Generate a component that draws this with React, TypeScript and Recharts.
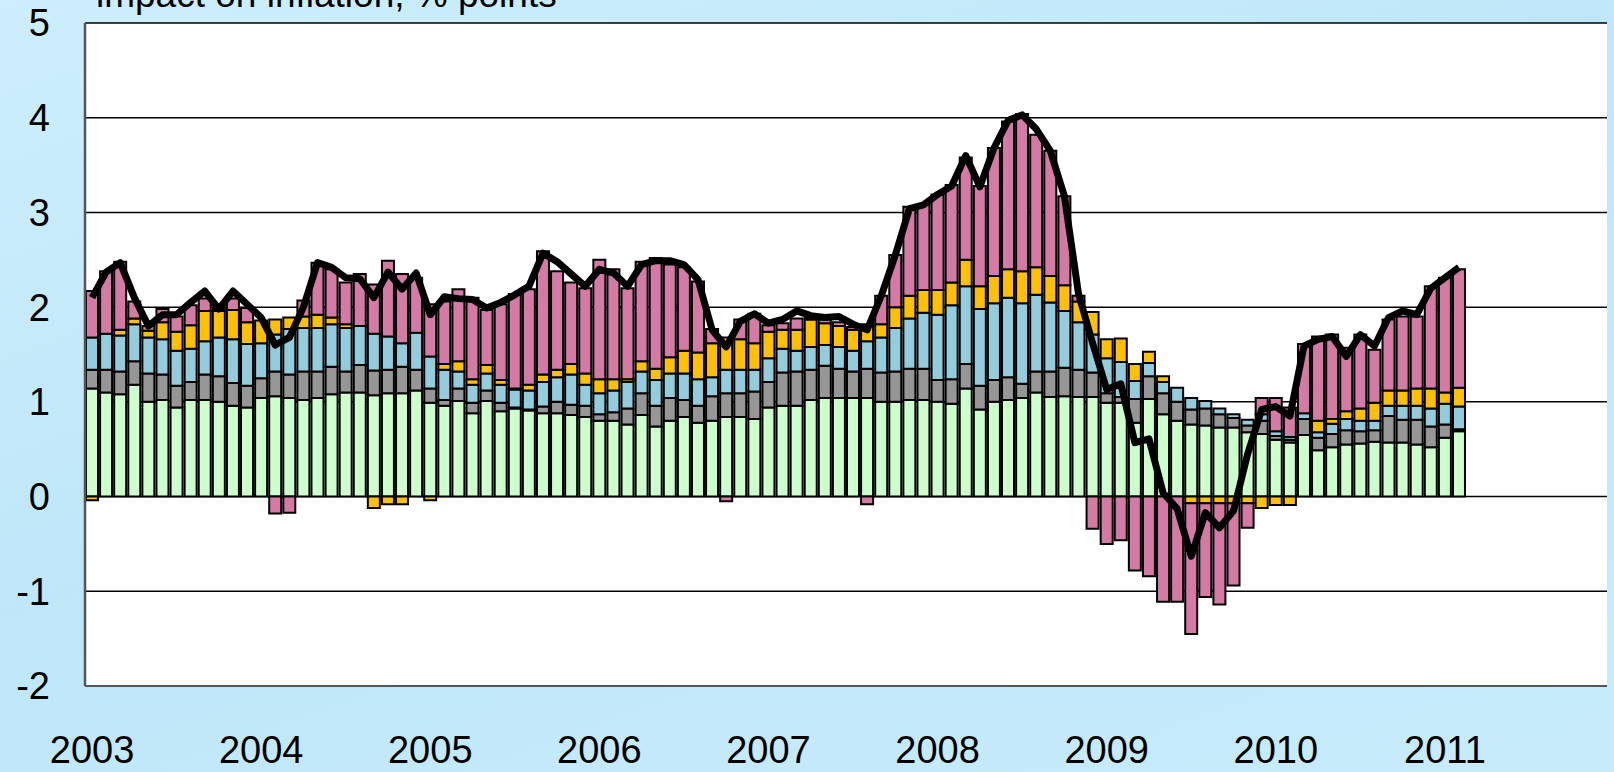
import React from 'react';
import {
  ComposedChart,
  Bar,
  Line,
  XAxis,
  YAxis,
  CartesianGrid,
} from 'recharts';

const years = ['2003', '2004', '2005', '2006', '2007', '2008', '2009', '2010', '2011'];
const monthNums = ['01', '02', '03', '04', '05', '06', '07', '08', '09', '10', '11', '12'];
const yTicks = [-2, -1, 0, 1, 2, 3, 4, 5];

// contributions, Jan 2003 - Feb 2011 (bottom of stack first)
const greenVals = [
  1.14, 1.10, 1.08, 1.18, 1.00, 1.02, 0.94, 1.02, 1.02, 1.00, 0.96, 0.94,
  1.04, 1.06, 1.04, 1.02, 1.04, 1.08, 1.10, 1.10, 1.07, 1.09, 1.09, 1.12,
  0.99, 0.96, 1.01, 0.88, 1.01, 0.90, 0.93, 0.91, 0.88, 0.88, 0.86, 0.84,
  0.80, 0.80, 0.76, 0.86, 0.74, 0.80, 0.84, 0.78, 0.80, 0.84, 0.84, 0.82,
  0.94, 0.96, 0.96, 1.02, 1.04, 1.04, 1.04, 1.04, 1.00, 1.00, 1.02, 1.02,
  1.00, 0.98, 1.14, 0.92, 1.00, 1.02, 1.04, 1.10, 1.05, 1.06, 1.05, 1.05,
  0.99, 0.99, 0.78, 1.03, 0.87, 0.80, 0.76, 0.75, 0.73, 0.73, 0.68, 0.66,
  0.60, 0.57, 0.65, 0.49, 0.52, 0.55, 0.56, 0.58, 0.57, 0.57, 0.55, 0.52,
  0.62, 0.69,
];
const greyVals = [
  0.20, 0.24, 0.24, 0.25, 0.30, 0.27, 0.23, 0.19, 0.27, 0.27, 0.24, 0.23,
  0.21, 0.26, 0.25, 0.30, 0.28, 0.29, 0.22, 0.29, 0.26, 0.25, 0.28, 0.22,
  0.15, 0.06, 0.13, 0.11, 0.11, 0.09, 0.01, 0.01, 0.07, 0.12, 0.11, 0.12,
  0.07, 0.09, 0.17, 0.23, 0.22, 0.24, 0.18, 0.18, 0.26, 0.25, 0.25, 0.29,
  0.27, 0.35, 0.36, 0.32, 0.34, 0.31, 0.28, 0.31, 0.31, 0.32, 0.33, 0.33,
  0.23, 0.26, 0.26, 0.25, 0.23, 0.24, 0.15, 0.22, 0.27, 0.30, 0.29, 0.26,
  0.10, 0.06, 0.25, 0.24, 0.22, 0.20, 0.16, 0.18, 0.14, 0.10, 0.07, 0.14,
  0.04, 0.03, 0.17, 0.13, 0.14, 0.15, 0.13, 0.12, 0.28, 0.24, 0.26, 0.22,
  0.14, 0.02,
];
const blueVals = [
  0.34, 0.38, 0.38, 0.39, 0.38, 0.37, 0.37, 0.35, 0.35, 0.41, 0.46, 0.44,
  0.37, 0.39, 0.48, 0.46, 0.46, 0.45, 0.46, 0.41, 0.39, 0.35, 0.25, 0.39,
  0.34, 0.32, 0.18, 0.19, 0.18, 0.19, 0.19, 0.20, 0.26, 0.26, 0.32, 0.22,
  0.22, 0.23, 0.28, 0.23, 0.27, 0.26, 0.28, 0.28, 0.20, 0.25, 0.25, 0.23,
  0.25, 0.25, 0.22, 0.24, 0.22, 0.23, 0.22, 0.29, 0.37, 0.46, 0.53, 0.59,
  0.69, 0.78, 0.82, 0.81, 0.81, 0.84, 0.85, 0.81, 0.73, 0.60, 0.50, 0.40,
  0.37, 0.37, 0.19, 0.14, 0.12, 0.15, 0.12, 0.08, 0.06, 0.04, 0.06, 0.07,
  0.05, 0.03, 0.06, 0.06, 0.11, 0.12, 0.11, 0.10, 0.11, 0.15, 0.15, 0.19,
  0.22, 0.24,
];
const yellowVals = [
  -0.04, 0, 0.06, 0.06, 0.07, 0.18, 0.20, 0.25, 0.32, 0.28, 0.31, 0.23,
  0.24, 0.16, 0.12, 0.12, 0.14, 0.07, 0.04, 0, -0.12, -0.08, -0.08, 0,
  -0.04, 0.06, 0.11, 0.06, 0.09, 0.05, 0.01, 0.06, 0.08, 0.08, 0.11, 0.12,
  0.15, 0.12, 0.03, 0.11, 0.12, 0.17, 0.24, 0.28, 0.36, 0.34, 0.32, 0.28,
  0.28, 0.20, 0.22, 0.29, 0.23, 0.22, 0.22, 0.18, 0.14, 0.22, 0.24, 0.24,
  0.26, 0.24, 0.28, 0.24, 0.29, 0.30, 0.34, 0.29, 0.28, 0.27, 0.22, 0.24,
  0.20, 0.25, 0.18, 0.12, 0.06, 0, -0.07, -0.07, -0.07, -0.07, -0.07, -0.12,
  -0.09, -0.09, 0, 0.12, 0.05, 0.08, 0.13, 0.19, 0.16, 0.16, 0.18, 0.21,
  0.12, 0.20,
];
const pinkVals = [
  0.49, 0.66, 0.72, 0.18, 0.05, 0.14, 0.16, 0.21, 0.13, 0.02, 0.12, 0.15,
  0, -0.18, -0.17, 0.17, 0.55, 0.51, 0.44, 0.55, 0.52, 0.80, 0.73, 0.58,
  0.55, 0.66, 0.76, 0.86, 0.58, 0.80, 1.00, 1.01, 1.30, 1.04, 0.86, 0.90,
  1.26, 1.16, 0.96, 1.05, 1.17, 0.98, 0.88, 0.75, 0.15, -0.05, 0.21, 0.31,
  0.07, 0.07, 0.12, 0.02, 0.04, 0.04, 0.03, -0.08, 0.30, 0.55, 0.94, 0.90,
  1.01, 1.03, 1.08, 1.06, 1.35, 1.56, 1.66, 1.40, 1.32, 0.94, 0.06, -0.34,
  -0.50, -0.46, -0.78, -0.84, -1.11, -1.11, -1.38, -0.99, -1.07, -0.87, -0.26, 0.17,
  0.35, 0.31, 0.73, 0.89, 0.89, 0.67, 0.78, 0.56, 0.75, 0.78, 0.76, 1.08,
  1.21, 1.25,
];
const headline = [
  2.10, 2.37, 2.47, 2.10, 1.80, 1.92, 1.92, 2.05, 2.17, 1.98, 2.17, 2.03,
  1.89, 1.60, 1.68, 2.00, 2.47, 2.42, 2.31, 2.30, 2.10, 2.37, 2.19, 2.36,
  1.92, 2.11, 2.09, 2.08, 1.99, 2.05, 2.13, 2.22, 2.57, 2.48, 2.35, 2.22,
  2.40, 2.36, 2.22, 2.45, 2.49, 2.49, 2.45, 2.29, 1.76, 1.58, 1.85, 1.93,
  1.83, 1.87, 1.96, 1.91, 1.89, 1.90, 1.82, 1.76, 2.12, 2.55, 3.04, 3.08,
  3.19, 3.28, 3.60, 3.27, 3.68, 3.97, 4.03, 3.88, 3.65, 3.17, 2.14, 1.62,
  1.13, 1.19, 0.57, 0.61, 0.04, -0.13, -0.63, -0.17, -0.33, -0.15, 0.45, 0.92,
  0.95, 0.85, 1.59, 1.66, 1.69, 1.48, 1.71, 1.59, 1.89, 1.96, 1.92, 2.20,
  2.31, 2.42,
];

const months: string[] = [];
years.forEach(y => monthNums.forEach(m => months.push(`${y}-${m}`)));

const data = months.map((m, i) => ({
  m,
  green: greenVals[i] ?? null,
  grey: greyVals[i] ?? null,
  blue: blueVals[i] ?? null,
  yellow: yellowVals[i] ?? null,
  pink: pinkVals[i] ?? null,
  headline: headline[i] ?? null,
}));

const FONT = '"Liberation Sans", Arial, sans-serif';

const App = () => {
  return (
    <div
      style={{
        position: 'absolute',
        left: 0,
        top: 0,
        width: 1614,
        height: 772,
        overflow: 'hidden',
        background: 'linear-gradient(160deg, #cdeefc 0%, #bfe7f9 45%, #c7ebfb 100%)',
        fontFamily: FONT,
      }}
    >
      <svg width={1614} height={40} style={{ position: 'absolute', left: 0, top: 0 }}>
        <text x={96} y={7} fontSize={37} fontFamily={FONT} fill="#000">
          impact on inflation, % points
        </text>
      </svg>
      <div style={{ position: 'absolute', left: 0, top: 0 }}>
        <ComposedChart
          width={1614}
          height={772}
          data={data}
          stackOffset="sign"
          barCategoryGap={1}
          margin={{ top: 23, right: 7, bottom: 0, left: 0 }}
        >
          <CartesianGrid
            vertical={false}
            stroke="#000"
            strokeWidth={1.5}
            fill="#fff"
            fillOpacity={1}
          />
          <XAxis
            dataKey="m"
            interval={0}
            height={86}
            tickLine={false}
            axisLine={{ stroke: '#555', strokeWidth: 2 }}
            tickMargin={44}
            tickFormatter={(v: string) => (v.endsWith('-01') ? v.slice(0, 4) : '')}
            tick={{ fontSize: 38, fill: '#000', fontFamily: FONT }}
          />
          <YAxis
            width={85}
            domain={[-2, 5]}
            ticks={yTicks}
            interval={0}
            tickLine={false}
            axisLine={{ stroke: '#555', strokeWidth: 2.5 }}
            tickMargin={29}
            tick={{ fontSize: 38, fill: '#000', fontFamily: FONT }}
          />
          <YAxis
            yAxisId="right"
            orientation="right"
            width={0}
            domain={[-2, 5]}
            tick={false}
            tickLine={false}
            axisLine={{ stroke: '#555', strokeWidth: 2 }}
          />
          <Bar dataKey="green" stackId="a" fill="#ccffcc" stroke="#000" strokeWidth={2} isAnimationActive={false} />
          <Bar dataKey="grey" stackId="a" fill="#969696" stroke="#000" strokeWidth={2} isAnimationActive={false} />
          <Bar dataKey="blue" stackId="a" fill="#93cddd" stroke="#000" strokeWidth={2} isAnimationActive={false} />
          <Bar dataKey="yellow" stackId="a" fill="#ffc000" stroke="#000" strokeWidth={2} isAnimationActive={false} />
          <Bar dataKey="pink" stackId="a" fill="#d47aa4" stroke="#000" strokeWidth={2} isAnimationActive={false} />
          <Line
            dataKey="headline"
            stroke="#000"
            strokeWidth={7}
            dot={false}
            strokeLinejoin="round"
            isAnimationActive={false}
          />
        </ComposedChart>
      </div>
    </div>
  );
};

export default App;
